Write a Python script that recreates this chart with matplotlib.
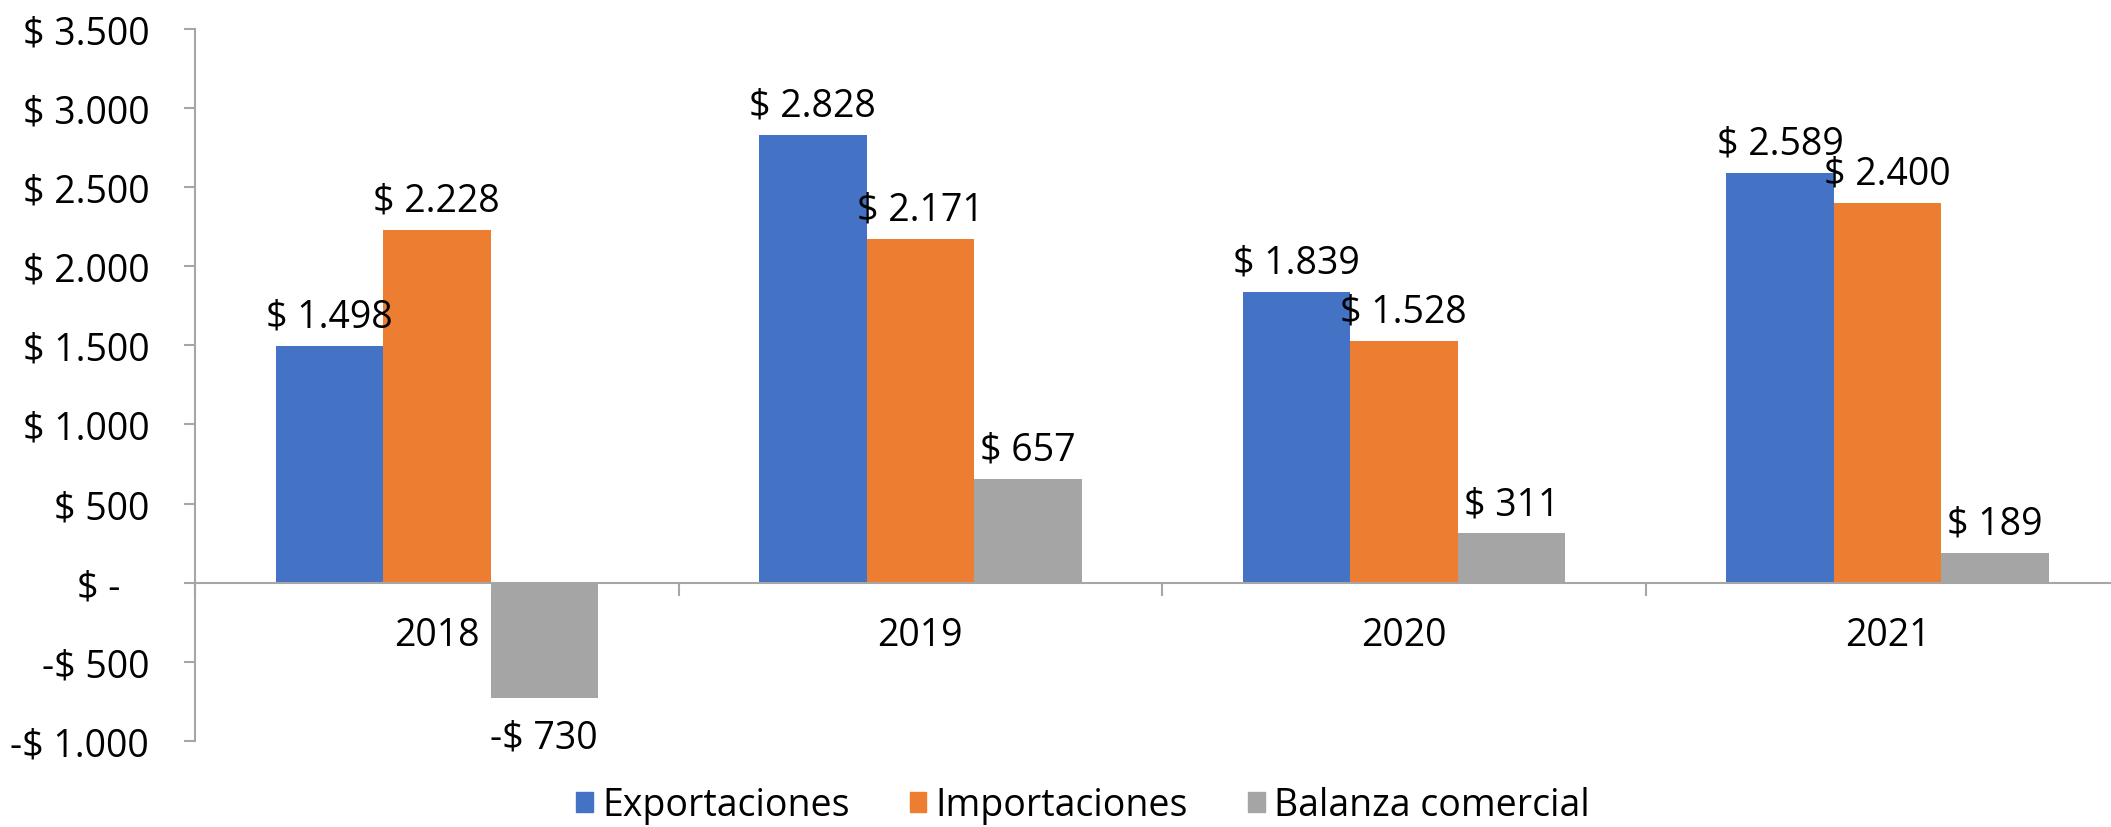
import matplotlib.pyplot as plt
from matplotlib.patches import Patch

years = ["2018", "2019", "2020", "2021"]
exportaciones = [1498, 2828, 1839, 2589]
importaciones = [2228, 2171, 1528, 2400]
balanza = [-730, 657, 311, 189]

series_names = ["Exportaciones", "Importaciones", "Balanza comercial"]
colors = ["#4472C4", "#ED7D31", "#A5A5A5"]
y_ticks = [-1000, -500, 0, 500, 1000, 1500, 2000, 2500, 3000, 3500]

plt.rcParams["font.family"] = ["Open Sans", "DejaVu Sans"]
FS = 27
AXIS_GRAY = "#A6A6A6"


def money(v):
    if v == 0:
        return "$ -   "
    s = f"{abs(v):,}".replace(",", ".")
    return ("-$ " if v < 0 else "$ ") + s


def main():
    fig = plt.figure(figsize=(21.11, 8.28), dpi=100)
    ax = fig.add_axes([0.0924, 0.1039, 0.9162, 0.8604])

    w = 0.2222
    data = [exportaciones, importaciones, balanza]
    for j, vals in enumerate(data):
        xs = [i + (j - 1) * w for i in range(len(years))]
        ax.bar(xs, vals, width=w, color=colors[j], zorder=2)
        for x, v in zip(xs, vals):
            off = 21 if v >= 0 else -28
            ax.annotate(money(v), (x, v), xytext=(0, off), textcoords="offset points",
                        ha="center", va="center", fontsize=FS, color="black")

    ax.set_xlim(-0.5, 3.5)
    ax.set_ylim(-1000, 3500)

    ax.set_yticks(y_ticks)
    ax.set_yticklabels([money(v) for v in y_ticks])

    ax.set_xticks(range(len(years)))
    ax.set_xticklabels(years)
    ax.set_xticks([i - 0.5 for i in range(len(years) + 1)], minor=True)

    for s in ["top", "right"]:
        ax.spines[s].set_visible(False)
    ax.spines["bottom"].set_position(("data", 0))
    ax.spines["bottom"].set_color(AXIS_GRAY)
    ax.spines["left"].set_color(AXIS_GRAY)
    ax.spines["bottom"].set_linewidth(1.5)
    ax.spines["left"].set_linewidth(1.5)
    ax.spines["bottom"].set_zorder(3)

    ax.tick_params(axis="y", direction="out", length=8, width=1.5, color=AXIS_GRAY,
                   labelsize=FS, pad=25)
    ax.tick_params(axis="x", which="major", length=0, labelsize=FS, pad=24)
    ax.tick_params(axis="x", which="minor", direction="out", length=9, width=1.5,
                   color=AXIS_GRAY)

    handles = [Patch(color=c, label=n) for c, n in zip(colors, series_names)]
    fig.legend(handles=handles, loc="center", bbox_to_anchor=(0.513, 0.026), ncol=3,
               frameon=False, fontsize=FS, handlelength=0.45, handleheight=0.45,
               handletextpad=0.25, columnspacing=1.6, borderaxespad=0)

    fig.savefig("out.png", dpi=100)


if __name__ == "__main__":
    main()
